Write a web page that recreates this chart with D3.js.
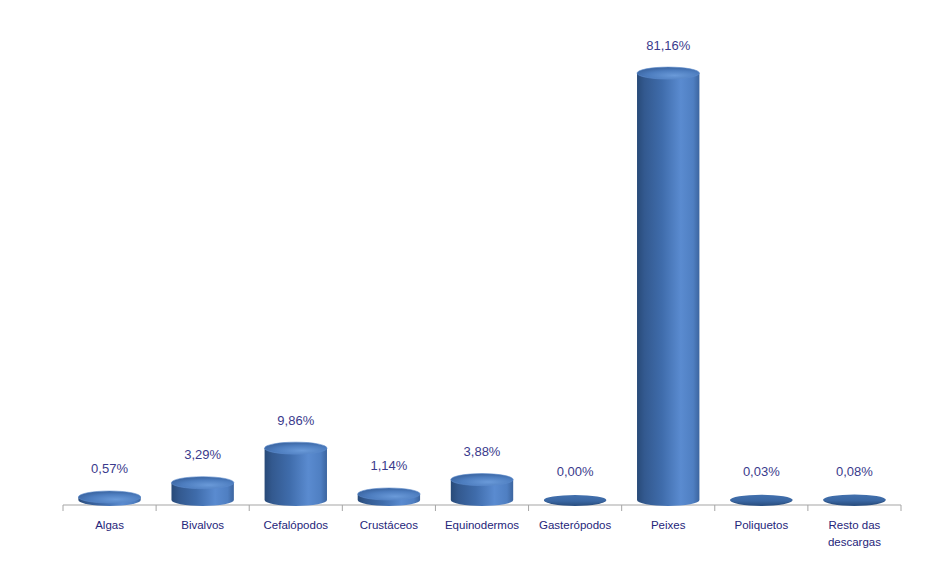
<!DOCTYPE html>
<html><head><meta charset="utf-8">
<script src="https://cdn.jsdelivr.net/npm/d3@7"></script>
<style>body{margin:0;background:#fff}svg{display:block}</style>
</head><body>
<script>
const categories = [["Algas"],["Bivalvos"],["Cefalópodos"],["Crustáceos"],["Equinodermos"],["Gasterópodos"],["Peixes"],["Poliquetos"],["Resto das","descargas"]];
const values = [0.57, 3.29, 9.86, 1.14, 3.88, 0.00, 81.16, 0.03, 0.08];
const valueLabels = ["0,57%","3,29%","9,86%","1,14%","3,88%","0,00%","81,16%","0,03%","0,08%"];

const W = 929, H = 583;
const svg = d3.select("body").append("svg").attr("width", W).attr("height", H);
const defs = svg.append("defs");

const bodyG = defs.append("linearGradient").attr("id","body").attr("x1","0").attr("x2","1").attr("y1","0").attr("y2","0");
[[0,"#284a78"],[0.12,"#33598f"],[0.4,"#3f6cab"],[0.7,"#5a8bd0"],[0.9,"#4f7fc2"],[1,"#3c659f"]].forEach(([o,c])=>bodyG.append("stop").attr("offset",o).attr("stop-color",c));
const topG = defs.append("radialGradient").attr("id","top").attr("cx","0.6").attr("cy","0.7").attr("r","0.7");
[[0,"#6a9ad9"],[0.6,"#4d7dbf"],[1,"#3a64a0"]].forEach(([o,c])=>topG.append("stop").attr("offset",o).attr("stop-color",c));
const flatG = defs.append("linearGradient").attr("id","flat").attr("x1","0").attr("x2","0").attr("y1","0").attr("y2","1");
[[0,"#4270ad"],[0.6,"#3a67a3"],[1,"#2c5285"]].forEach(([o,c])=>flatG.append("stop").attr("offset",o).attr("stop-color",c));

const x = d3.scaleBand().domain(d3.range(categories.length)).range([63, 901]).paddingInner(0.33).paddingOuter(0.165);
const xb = d3.scaleBand().domain(d3.range(categories.length)).range([63, 901]);
const y = d3.scaleLinear().domain([0, 90]).range([500, 500 - 90 * 5.26]);
const ry = 6;

// axis
const axis = svg.append("g").attr("transform","translate(0,505)");
axis.append("line").attr("x1",63).attr("x2",901).attr("y1",0).attr("y2",0).attr("stroke","#a6a6a6").attr("stroke-width",1.2);
axis.selectAll("line.tick").data(d3.range(categories.length+1)).join("line").attr("class","tick")
  .attr("x1",d=> d<categories.length ? xb(d) : 901).attr("x2",d=> d<categories.length ? xb(d) : 901)
  .attr("y1",0).attr("y2",6).attr("stroke","#a6a6a6").attr("stroke-width",1);

// bars
const bars = svg.append("g").selectAll("g").data(values).join("g");
bars.each(function(v,i){
  const g = d3.select(this);
  const x0 = x(i), w = x.bandwidth(), cx = x0 + w/2, rx = w/2;
  const yT = y(v), yB = y(0);
  if (yB - yT > 1.5) {
    g.append("path").attr("d",`M${x0},${yT} L${x0},${yB} A${rx},${ry} 0 0 0 ${x0+w},${yB} L${x0+w},${yT} Z`).attr("fill","url(#body)");
    g.append("ellipse").attr("cx",cx).attr("cy",yT).attr("rx",rx).attr("ry",ry).attr("fill","url(#top)").attr("stroke","#5c8ccc").attr("stroke-width",0.6);
  } else {
    g.append("path").attr("d",`M${x0},${yT} L${x0},${yB} A${rx},${ry} 0 0 0 ${x0+w},${yB} L${x0+w},${yT} Z`).attr("fill","#2c5285");
    g.append("ellipse").attr("cx",cx).attr("cy",yT).attr("rx",rx).attr("ry",ry-1).attr("fill","url(#flat)");
  }
  g.append("text").attr("x",cx).attr("y",yT - 27).attr("text-anchor","middle").attr("dominant-baseline","middle")
    .attr("font-family","'Liberation Sans', Arial, sans-serif").attr("font-size",13).attr("fill","#3a3a8c").text(valueLabels[i]);
});

// category labels
svg.append("g").selectAll("text").data(categories).join("text")
  .attr("x",(d,i)=>xb(i)+xb.bandwidth()/2).attr("y",529)
  .attr("text-anchor","middle").attr("font-family","'Liberation Sans', Arial, sans-serif").attr("font-size",11.5).attr("fill","#25257a")
  .each(function(d){ d.forEach((t,k)=>d3.select(this).append("tspan").attr("x",d3.select(this).attr("x")).attr("dy",k?17:0).text(t)); });
</script>
</body></html>
